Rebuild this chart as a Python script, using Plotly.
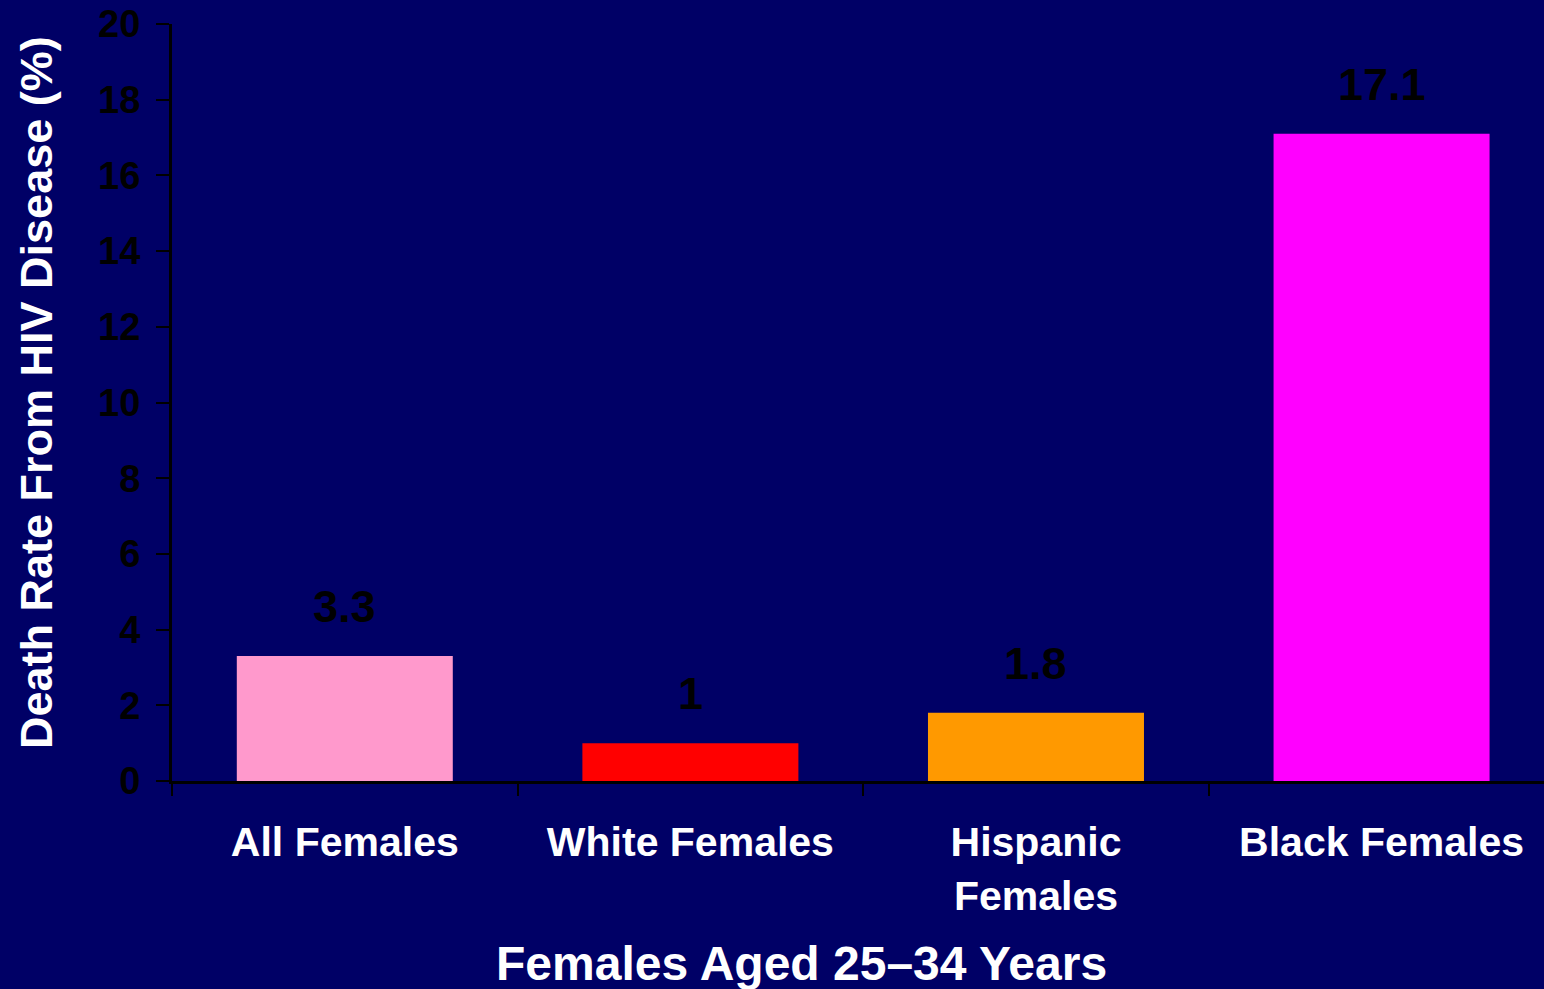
import plotly.graph_objects as go

# Death rate from HIV disease, females aged 25–34
categories = ["All Females", "White Females", "Hispanic<br>Females", "Black Females"]
values = [3.3, 1, 1.8, 17.1]
bar_colors = ["#FF99CC", "#FF0000", "#FF9900", "#FF00FF"]
y_ticks = [0, 2, 4, 6, 8, 10, 12, 14, 16, 18, 20]

FONT = "Arial, Liberation Sans, sans-serif"
BG = "#000066"

W, H = 1544, 989
ML, MR, MT, MB = 172, 0, 24, 208

fig = go.Figure()
fig.add_trace(go.Bar(
    x=categories,
    y=values,
    marker=dict(color=bar_colors, line=dict(width=0)),
    width=0.625,
    hoverinfo="skip",
))

# value labels above each bar
for c, v in zip(categories, values):
    fig.add_annotation(
        x=c, y=v, text=f"<b>{v:g}</b>", showarrow=False,
        xref="x", yref="y", yanchor="bottom", yshift=22,
        font=dict(family=FONT, size=45, color="black"),
    )

plot_w = W - ML - MR
plot_h = H - MT - MB

# axis titles, placed in paper coordinates
fig.add_annotation(
    xref="paper", yref="paper",
    x=(801 - ML) / plot_w, y=(H - MB - 963) / plot_h,
    xanchor="center", yanchor="middle",
    text="<b>Females Aged 25–34 Years</b>", showarrow=False,
    font=dict(family=FONT, size=48, color="white"),
)
fig.add_annotation(
    xref="paper", yref="paper",
    x=(37 - ML) / plot_w, y=(H - MB - 393) / plot_h,
    xanchor="center", yanchor="middle",
    text="<b>Death Rate From HIV Disease (%)</b>", textangle=-90, showarrow=False,
    font=dict(family=FONT, size=45, color="white"),
)

fig.update_layout(
    width=W, height=H,
    margin=dict(l=ML, r=MR, t=MT, b=MB),
    paper_bgcolor=BG, plot_bgcolor=BG,
    showlegend=False,
    bargap=0.375,
    xaxis=dict(
        type="category",
        range=[-0.5, 3.47],
        tickson="boundaries", ticks="outside", ticklen=12, tickwidth=2, tickcolor="black",
        ticklabelstandoff=23,
        tickfont=dict(family=FONT, size=41, color="white", weight="bold"),
        showline=True, linecolor="black", linewidth=3,
        showgrid=False, zeroline=False, fixedrange=True,
    ),
    yaxis=dict(
        range=[0, 20], tickmode="array", tickvals=y_ticks,
        ticks="outside", ticklen=13, tickwidth=2, tickcolor="black",
        ticklabelstandoff=8,
        tickfont=dict(family=FONT, size=38, color="black", weight="bold"),
        showline=True, linecolor="black", linewidth=3,
        showgrid=False, zeroline=False, fixedrange=True,
    ),
)

fig.write_html("out.html")
